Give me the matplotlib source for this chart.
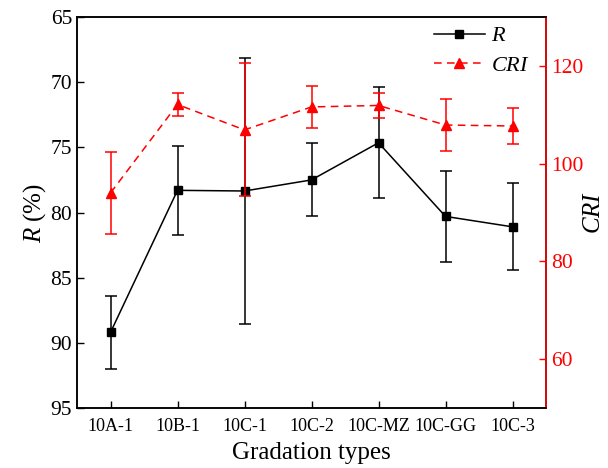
import matplotlib
matplotlib.use("Agg")
import matplotlib.pyplot as plt
from matplotlib.lines import Line2D

plt.rcParams['font.family'] = ['Liberation Serif', 'DejaVu Serif']
plt.rcParams['mathtext.fontset'] = 'custom'
plt.rcParams['mathtext.rm'] = 'Liberation Serif'
plt.rcParams['mathtext.it'] = 'Liberation Serif:italic'

categories = ['10A-1', '10B-1', '10C-1', '10C-2', '10C-MZ', '10C-GG', '10C-3']
R_vals = [89.2, 78.3, 78.35, 77.5, 74.65, 80.3, 81.1]
R_err = [2.8, 3.4, 10.2, 2.8, 4.25, 3.5, 3.35]
CRI_vals = [94.0, 112.1, 106.9, 111.6, 111.9, 107.9, 107.7]
CRI_err = [8.4, 2.3, 13.6, 4.3, 2.5, 5.3, 3.6]
R_ticks = [65, 70, 75, 80, 85, 90, 95]
CRI_ticks = [60, 80, 100, 120]

fig = plt.figure(figsize=(6.08, 4.68), dpi=100)
ax = fig.add_axes([77/608, 60/468, (546-77)/608, (408-17)/468])
ax2 = ax.twinx()

x = list(range(len(categories)))
ax.errorbar(x, R_vals, yerr=R_err, color='black', marker='s', markersize=6,
            linewidth=1.1, elinewidth=1.1, capsize=4, capthick=1.1)
ax2.errorbar(x, CRI_vals, yerr=CRI_err, color='red', marker='^', markersize=7,
             linewidth=1.1, elinewidth=1.1, capsize=4, capthick=1.1,
             linestyle=(0, (5, 3.5)))

ax.set_xlim(-0.5, len(categories) - 0.5)
ax.set_xticks(x)
ax.set_xticklabels(categories, fontsize=13)
ax.set_ylim(95, 65)
ax.set_yticks(R_ticks)
ax.tick_params(axis='y', labelsize=15.5, direction='in', length=5, width=1)
ax.tick_params(axis='x', direction='in', length=5, width=1, pad=7)
ax.set_ylabel('$\\it{R}$ (%)', fontsize=18, labelpad=2)
ax.set_xlabel('Gradation types', fontsize=18, labelpad=5)

ax2.set_ylim(50, 130)
ax2.set_yticks(CRI_ticks)
ax2.tick_params(axis='y', labelsize=15.5, direction='in', length=5, width=1,
                colors='red', labelcolor='red')
ax2.set_ylabel('$\\it{CRI}$', fontsize=18, labelpad=0)

for a in (ax, ax2):
    for s in a.spines.values():
        s.set_linewidth(1.1)
ax2.spines['right'].set_color('red')

h1 = Line2D([], [], color='black', marker='s', markersize=6, linewidth=1.1)
h2 = Line2D([], [], color='red', marker='^', markersize=7, linewidth=1.1,
            linestyle=(0, (5, 3.5)))
ax2.legend(handles=[h1, h2], labels=['$\\it{R}$', '$\\it{CRI}$'], loc='upper right',
           frameon=False, fontsize=16, handlelength=2.3, handletextpad=0.3,
           borderaxespad=0.0, labelspacing=0.4, bbox_to_anchor=(0.985, 1.0))

fig.savefig('out.png', dpi=100)
